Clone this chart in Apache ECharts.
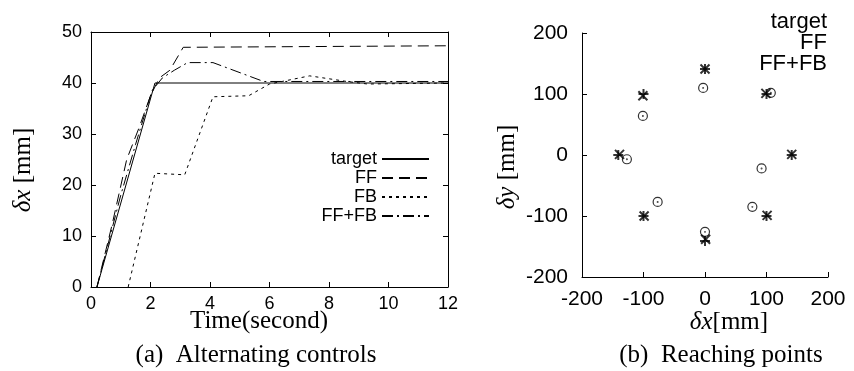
<!DOCTYPE html>
<html><head><meta charset="utf-8">
<script src="https://cdn.jsdelivr.net/npm/echarts@6/dist/echarts.min.js"></script>
<style>html,body{margin:0;padding:0;background:#fff}#c{width:854px;height:371px}</style>
</head><body><div id="c"></div>
<script>
// ---- Panel (a): Alternating controls ----
const xTicksA = [0, 2, 4, 6, 8, 10, 12];
const yTicksA = [0, 10, 20, 30, 40, 50];
const targetT = [0.2, 2.15, 12];
const targetV = [0, 40, 40];
const ffT = [0.2, 0.7, 1.2, 1.6, 2.0, 2.3, 2.65, 3.1, 12];
const ffV = [0, 12, 25, 31, 37.5, 41, 42.5, 47, 47.3];
const fbT = [1.25, 2.15, 3.15, 4.1, 5.3, 6.0, 7.35, 8.6, 9.3, 12];
const fbV = [0, 22.3, 22, 37.3, 37.5, 39.8, 41.4, 40.3, 39.8, 40];
const ffbT = [0.2, 1.0, 1.5, 2.05, 2.4, 2.8, 3.25, 4.1, 5.8, 12];
const ffbV = [0, 18, 28, 38.5, 41, 42.5, 44, 44, 40.3, 40.3];
const legendA = ['target', 'FF', 'FB', 'FF+FB'];

// ---- Panel (b): Reaching points ----
const ticksB = [-200, -100, 0, 100, 200];
const tgtX = [-141, -100, 0, 100, 141, 100, 0, -100];
const tgtY = [0, 100, 141, 100, 0, -100, -141, -100];
const ffX = [-139, -101, 0, 99, 141, 101, 1, -99];
const ffY = [1, 97, 141, 101, 1, -99, -138, -100];
const ffbX = [-127, -101, -3, 107, 92, 77, 0, -77];
const ffbY = [-7, 64, 110, 102, -22, -85, -126, -77];
const legendB = ['target', 'FF', 'FF+FB'];

const zip = (a, b) => a.map((v, i) => [v, b[i]]);
const SANS = 'Liberation Sans, Arial, sans-serif';
const SERIF = 'Liberation Serif, Times New Roman, serif';

function axisBase(extra) {
  return Object.assign({
    type: 'value',
    axisLine: { show: true, onZero: false, lineStyle: { color: '#000', width: 1 } },
    axisTick: { show: true, inside: true, length: 5, lineStyle: { color: '#000' } },
    splitLine: { show: false },
    axisLabel: { color: '#000', fontFamily: SANS, fontSize: 18 }
  }, extra);
}

const chart = echarts.init(document.getElementById('c'), null, { renderer: 'canvas' });
const option = {
  animation: false,
  backgroundColor: '#fff',
  grid: [
    { left: 91, top: 32, width: 357, height: 255 },
    { left: 582, top: 33, width: 246, height: 244 }
  ],
  xAxis: [
    axisBase({ gridIndex: 0, min: 0, max: 12, interval: 2, position: 'bottom',
      axisLabel: { color: '#000', fontFamily: SANS, fontSize: 18, margin: 8 } }),
    axisBase({ gridIndex: 0, min: 0, max: 12, interval: 2, position: 'top', axisLabel: { show: false } }),
    axisBase({ gridIndex: 1, min: -200, max: 200, interval: 100, position: 'bottom',
      axisLabel: { color: '#000', fontFamily: SANS, fontSize: 21, margin: 12 } })
  ],
  yAxis: [
    axisBase({ gridIndex: 0, min: 0, max: 50, interval: 10, position: 'left',
      axisLabel: { color: '#000', fontFamily: SANS, fontSize: 18, margin: 9 } }),
    axisBase({ gridIndex: 0, min: 0, max: 50, interval: 10, position: 'right', axisLabel: { show: false } }),
    axisBase({ gridIndex: 1, min: -200, max: 200, interval: 100, position: 'left',
      axisLabel: { color: '#000', fontFamily: SANS, fontSize: 21, margin: 14 } })
  ],
  legend: {
    data: legendA, orient: 'vertical', align: 'right', right: 424, top: 150,
    itemWidth: 47, itemHeight: 10, itemGap: 1, padding: 0, selectedMode: false,
    itemStyle: { opacity: 0 },
    textStyle: { color: '#000', fontFamily: SANS, fontSize: 18, lineHeight: 18 }
  },
  series: [
    { name: 'target', type: 'line', xAxisIndex: 0, yAxisIndex: 0, data: zip(targetT, targetV),
      symbol: 'none', lineStyle: { color: '#000', width: 1, type: 'solid' }, itemStyle: { color: '#000' } },
    { name: 'FF', type: 'line', xAxisIndex: 0, yAxisIndex: 0, data: zip(ffT, ffV),
      symbol: 'none', lineStyle: { color: '#000', width: 1, type: [11, 6] }, itemStyle: { color: '#000' } },
    { name: 'FB', type: 'line', xAxisIndex: 0, yAxisIndex: 0, data: zip(fbT, fbV),
      symbol: 'none', lineStyle: { color: '#000', width: 1, type: [3, 4] }, itemStyle: { color: '#000' } },
    { name: 'FF+FB', type: 'line', xAxisIndex: 0, yAxisIndex: 0, data: zip(ffbT, ffbV),
      symbol: 'none', lineStyle: { color: '#000', width: 1, type: [11, 4, 2, 4] }, itemStyle: { color: '#000' } },
    { name: 'b-target', type: 'scatter', xAxisIndex: 2, yAxisIndex: 2, data: zip(tgtX, tgtY),
      symbol: 'path://M5,0L5,10M0,5L10,5', symbolSize: 10,
      itemStyle: { color: 'transparent', borderColor: '#000', borderWidth: 2 } },
    { name: 'b-FF', type: 'scatter', xAxisIndex: 2, yAxisIndex: 2, data: zip(ffX, ffY),
      symbol: 'path://M0,0L10,10M10,0L0,10', symbolSize: 9,
      itemStyle: { color: 'transparent', borderColor: '#000', borderWidth: 2 } },
    { name: 'b-FF+FB', type: 'scatter', xAxisIndex: 2, yAxisIndex: 2, data: zip(ffbX, ffbY),
      symbol: 'path://M10,5A5,5,0,1,1,0,5A5,5,0,1,1,10,5ZM5.4,5A0.4,0.4,0,1,1,4.6,5A0.4,0.4,0,1,1,5.4,5Z', symbolSize: 9,
      itemStyle: { color: 'transparent', borderColor: '#000', borderWidth: 1.2 } }
  ],
  graphic: [
    { type: 'text', x: 23, y: 170, rotation: Math.PI / 2,
      style: { text: '{i|δx} [mm]', textAlign: 'center', textVerticalAlign: 'middle', fill: '#000',
        font: '25px ' + SERIF, rich: { i: { fontStyle: 'italic', fontFamily: SERIF, fontSize: 25 } } } },
    { type: 'text', x: 259, y: 321,
      style: { text: 'Time(second)', textAlign: 'center', textVerticalAlign: 'middle', fill: '#000', font: '25px ' + SERIF } },
    { type: 'text', x: 256, y: 355,
      style: { text: '(a)  Alternating controls', textAlign: 'center', textVerticalAlign: 'middle', fill: '#000', font: '25px ' + SERIF } },
    { type: 'text', x: 507, y: 167, rotation: Math.PI / 2,
      style: { text: '{i|δy} [mm]', textAlign: 'center', textVerticalAlign: 'middle', fill: '#000',
        font: '25px ' + SERIF, rich: { i: { fontStyle: 'italic', fontFamily: SERIF, fontSize: 25 } } } },
    { type: 'text', x: 729, y: 322,
      style: { text: '{i|δx}[mm]', textAlign: 'center', textVerticalAlign: 'middle', fill: '#000',
        font: '25px ' + SERIF, rich: { i: { fontStyle: 'italic', fontFamily: SERIF, fontSize: 25 } } } },
    { type: 'text', x: 721, y: 355,
      style: { text: '(b)  Reaching points', textAlign: 'center', textVerticalAlign: 'middle', fill: '#000', font: '25px ' + SERIF } }
  ].concat(legendB.map((t, i) => ({
    type: 'text', x: 827, y: 22 + i * 21,
    style: { text: t, textAlign: 'right', textVerticalAlign: 'middle', fill: '#000', font: '22px ' + SANS }
  })))
};
chart.setOption(option);
</script>
</body></html>
